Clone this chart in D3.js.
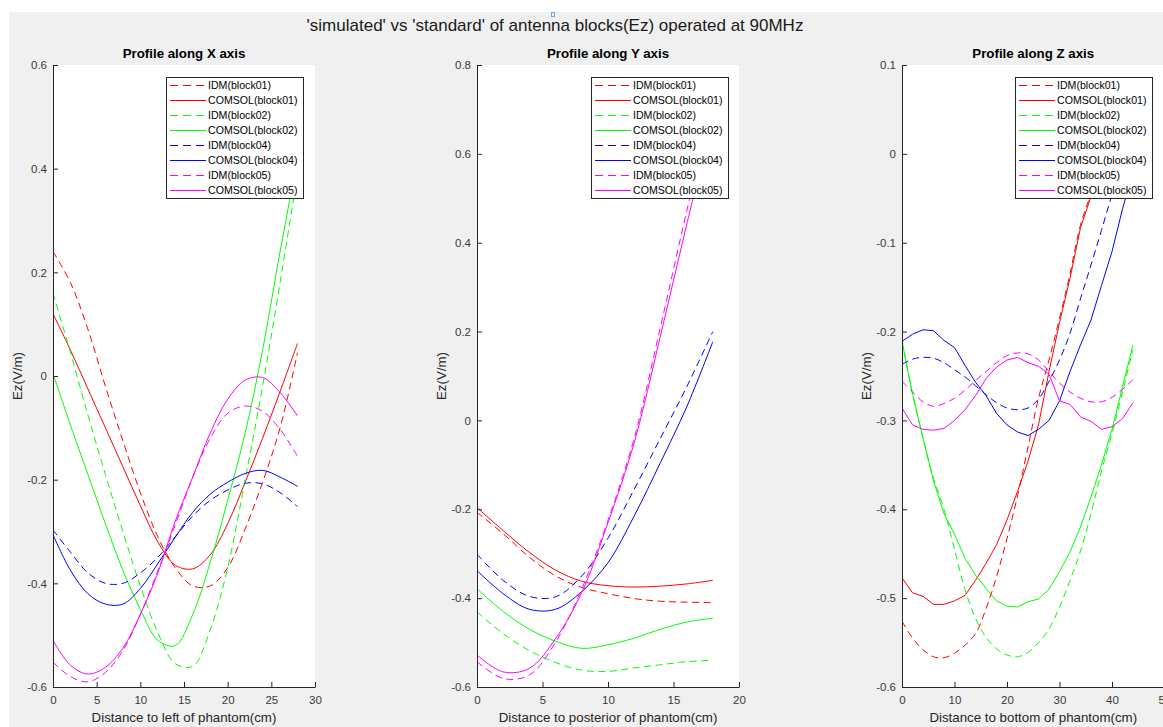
<!DOCTYPE html>
<html>
<head>
<meta charset="utf-8">
<script src="https://cdn.jsdelivr.net/npm/d3@7"></script>
<style>
body { margin: 0; background: #fff; }
text { font-family: "Liberation Sans", Arial, Helvetica, sans-serif; }
</style>
</head>
<body>
<div id="fig"></div>
<script>
// legend entries, same order in every subplot
var legendNames = ["IDM(block01)", "COMSOL(block01)", "IDM(block02)", "COMSOL(block02)",
                   "IDM(block04)", "COMSOL(block04)", "IDM(block05)", "COMSOL(block05)"];

// ---- profile along X (cm) ----
var posX = [0, 2, 4, 6, 8, 10, 12, 14, 16, 18, 20, 22, 24, 26, 28];
var x_idm01 = [0.24, 0.18, 0.09, -0.02, -0.125, -0.225, -0.31, -0.37, -0.405, -0.405, -0.37, -0.295, -0.205, -0.10, 0.045];
var x_com01 = [0.12, 0.05, -0.025, -0.10, -0.175, -0.25, -0.32, -0.365, -0.372, -0.345, -0.285, -0.205, -0.12, -0.03, 0.063];
var x_idm02 = [0.16, 0.045, -0.075, -0.19, -0.30, -0.405, -0.495, -0.555, -0.56, -0.49, -0.37, -0.20, -0.02, 0.18, 0.39];
var x_com02 = [0.005, -0.095, -0.19, -0.285, -0.375, -0.45, -0.51, -0.52, -0.46, -0.36, -0.24, -0.11, 0.05, 0.24, 0.42];
var x_idm04 = [-0.297, -0.34, -0.38, -0.40, -0.40, -0.38, -0.35, -0.31, -0.27, -0.24, -0.22, -0.207, -0.208, -0.225, -0.252];
var x_com04 = [-0.306, -0.375, -0.42, -0.44, -0.44, -0.41, -0.362, -0.311, -0.263, -0.228, -0.205, -0.188, -0.182, -0.195, -0.213];
var x_idm05 = [-0.552, -0.58, -0.59, -0.572, -0.53, -0.46, -0.376, -0.287, -0.196, -0.12, -0.072, -0.058, -0.068, -0.103, -0.155];
var x_com05 = [-0.51, -0.558, -0.575, -0.562, -0.525, -0.46, -0.38, -0.28, -0.195, -0.11, -0.045, -0.008, -0.003, -0.032, -0.077];

// ---- profile along Y (cm) ----
var posY = [0, 2, 4, 6, 8, 10, 12, 14, 16, 18];
var y_idm01 = [-0.207, -0.255, -0.308, -0.35, -0.376, -0.39, -0.401, -0.407, -0.409, -0.41];
var y_com01 = [-0.196, -0.248, -0.297, -0.337, -0.362, -0.372, -0.375, -0.373, -0.368, -0.36];
var y_idm02 = [-0.431, -0.48, -0.518, -0.545, -0.562, -0.565, -0.557, -0.55, -0.543, -0.54];
var y_com02 = [-0.379, -0.43, -0.47, -0.497, -0.513, -0.505, -0.49, -0.47, -0.454, -0.445];
var y_idm04 = [-0.301, -0.36, -0.396, -0.397, -0.35, -0.265, -0.155, -0.04, 0.075, 0.20];
var y_com04 = [-0.338, -0.39, -0.425, -0.425, -0.385, -0.32, -0.215, -0.095, 0.03, 0.177];
var y_idm05 = [-0.543, -0.581, -0.573, -0.499, -0.379, -0.225, -0.04, 0.21, 0.47, 0.72];
var y_com05 = [-0.528, -0.566, -0.558, -0.491, -0.387, -0.23, -0.05, 0.19, 0.44, 0.68];

// ---- profile along Z (cm) ----
var posZ = [0, 2, 4, 6, 8, 10, 12, 14, 16, 18, 20, 22, 24, 26, 28, 30, 32, 34, 36, 38, 40, 42, 44];
var z_idm01 = [-0.526, -0.545, -0.558, -0.566, -0.567, -0.562, -0.553, -0.54, -0.512, -0.476, -0.433, -0.385, -0.33, -0.275, -0.232, -0.185, -0.135, -0.08, -0.045, -0.01, 0.018, 0.04, 0.06];
var z_com01 = [-0.477, -0.494, -0.498, -0.507, -0.507, -0.503, -0.497, -0.48, -0.461, -0.44, -0.412, -0.38, -0.346, -0.305, -0.245, -0.19, -0.14, -0.083, -0.048, -0.015, 0.012, 0.035, 0.055];
var z_idm02 = [-0.211, -0.27, -0.32, -0.365, -0.40, -0.445, -0.49, -0.523, -0.544, -0.557, -0.564, -0.566, -0.561, -0.55, -0.535, -0.51, -0.48, -0.447, -0.405, -0.357, -0.315, -0.268, -0.22];
var z_com02 = [-0.211, -0.27, -0.32, -0.368, -0.405, -0.428, -0.455, -0.474, -0.489, -0.503, -0.509, -0.51, -0.504, -0.501, -0.49, -0.47, -0.448, -0.42, -0.386, -0.35, -0.31, -0.262, -0.215];
var z_idm04 = [-0.237, -0.231, -0.229, -0.23, -0.235, -0.243, -0.251, -0.261, -0.271, -0.28, -0.286, -0.288, -0.286, -0.276, -0.256, -0.232, -0.202, -0.163, -0.125, -0.086, -0.046, -0.01, 0.02];
var z_com04 = [-0.211, -0.203, -0.198, -0.199, -0.21, -0.218, -0.238, -0.257, -0.272, -0.292, -0.305, -0.313, -0.317, -0.31, -0.30, -0.278, -0.245, -0.215, -0.187, -0.148, -0.11, -0.062, -0.02];
var z_idm05 = [-0.256, -0.268, -0.279, -0.284, -0.281, -0.275, -0.266, -0.255, -0.245, -0.235, -0.227, -0.224, -0.225, -0.232, -0.245, -0.258, -0.268, -0.275, -0.279, -0.279, -0.274, -0.265, -0.254];
var z_com05 = [-0.286, -0.305, -0.31, -0.311, -0.309, -0.30, -0.288, -0.272, -0.253, -0.24, -0.232, -0.229, -0.235, -0.239, -0.248, -0.278, -0.282, -0.296, -0.301, -0.31, -0.307, -0.298, -0.28];

// tick labels
var xTicksX = [0, 5, 10, 15, 20, 25, 30];
var xTicksY = [0, 5, 10, 15, 20];
var xTicksZ = [0, 10, 20, 30, 40, 50];
var yTicksX = [-0.6, -0.4, -0.2, 0, 0.2, 0.4, 0.6];
var yTicksY = [-0.6, -0.4, -0.2, 0, 0.2, 0.4, 0.6, 0.8];
var yTicksZ = [-0.6, -0.5, -0.4, -0.3, -0.2, -0.1, 0, 0.1];

var W = 1163, H = 727;
var axTop = 65, axBottom = 687;
var colors = ["#ff0000", "#00ff00", "#0000ff", "#ff00ff"];
var ink = "#262626";

var panels = [
  {left: 53, right: 315, xd: [0, 30], xt: xTicksX, yd: [-0.6, 0.6], yt: yTicksX, pos: posX,
   data: [x_idm01, x_com01, x_idm02, x_com02, x_idm04, x_com04, x_idm05, x_com05],
   title: "Profile along X axis", xlabel: "Distance to left of phantom(cm)", legX: 166, smooth: true},
  {left: 477, right: 739, xd: [0, 20], xt: xTicksY, yd: [-0.6, 0.8], yt: yTicksY, pos: posY,
   data: [y_idm01, y_com01, y_idm02, y_com02, y_idm04, y_com04, y_idm05, y_com05],
   title: "Profile along Y axis", xlabel: "Distance to posterior of phantom(cm)", legX: 591, smooth: true},
  {left: 902, right: 1164.5, xd: [0, 50], xt: xTicksZ, yd: [-0.6, 0.1], yt: yTicksZ, pos: posZ,
   data: [z_idm01, z_com01, z_idm02, z_com02, z_idm04, z_com04, z_idm05, z_com05],
   title: "Profile along Z axis", xlabel: "Distance to bottom of phantom(cm)", legX: 1015, smooth: false}
];

var svg = d3.select("#fig").append("svg").attr("width", W).attr("height", H);
svg.append("rect").attr("width", W).attr("height", H).attr("fill", "#fff");
svg.append("rect").attr("x", 9).attr("y", 12).attr("width", W - 9).attr("height", H - 12).attr("fill", "#f0f0f0");

// figure title
svg.append("text").attr("x", 555).attr("y", 31).attr("text-anchor", "middle")
  .attr("font-size", "17px").attr("fill", "#1a1a1a")
  .text("'simulated' vs 'standard' of antenna blocks(Ez) operated at 90MHz");
svg.append("rect").attr("x", 551.5).attr("y", 12.5).attr("width", 3).attr("height", 4)
  .attr("fill", "none").attr("stroke", "#7aa7dd").attr("stroke-width", 1);

var fmtY = function(d) { return Math.abs(d) < 1e-9 ? "0" : d.toFixed(1); };

panels.forEach(function(p, i) {
  var g = svg.append("g");
  var xs = d3.scaleLinear().domain(p.xd).range([p.left, p.right]);
  var ys = d3.scaleLinear().domain(p.yd).range([axBottom, axTop]);

  g.append("rect").attr("x", p.left).attr("y", axTop)
    .attr("width", p.right - p.left).attr("height", axBottom - axTop).attr("fill", "#fff");

  svg.append("clipPath").attr("id", "clip" + i).append("rect")
    .attr("x", p.left).attr("y", axTop).attr("width", p.right - p.left).attr("height", axBottom - axTop);

  var lines = g.append("g").attr("clip-path", "url(#clip" + i + ")");
  p.data.forEach(function(vals, j) {
    var dashed = j % 2 === 0;
    var curve = (p.smooth || dashed) ? d3.curveCatmullRom.alpha(0.5) : d3.curveLinear;
    var line = d3.line()
      .x(function(d, k) { return xs(p.pos[k]); })
      .y(function(d) { return ys(d); })
      .curve(curve);
    lines.append("path").datum(vals)
      .attr("d", line)
      .attr("fill", "none")
      .attr("stroke", colors[j >> 1])
      .attr("stroke-width", 1)
      .attr("stroke-dasharray", dashed ? "7,4.5" : null);
  });

  // axes, ticks pointing inward like matlab
  var xa = g.append("g").attr("transform", "translate(0," + axBottom + ")")
    .call(d3.axisBottom(xs).tickValues(p.xt).tickSizeInner(-5).tickSizeOuter(0).tickPadding(9)
      .tickFormat(d3.format("d")));
  var ya = g.append("g").attr("transform", "translate(" + p.left + ",0)")
    .call(d3.axisLeft(ys).tickValues(p.yt).tickSizeInner(-5).tickSizeOuter(0).tickPadding(6)
      .tickFormat(fmtY));
  [xa, ya].forEach(function(a) {
    a.attr("font-family", null).attr("font-size", "11.5px");
    a.select(".domain").attr("stroke", ink).attr("stroke-width", 1);
    a.selectAll(".tick line").attr("stroke", ink);
    a.selectAll(".tick text").attr("fill", "#3a3a3a");
  });

  // labels
  g.append("text").attr("x", (p.left + p.right) / 2).attr("y", 58).attr("text-anchor", "middle")
    .attr("font-size", "13.3px").attr("font-weight", "bold").attr("fill", "#000").text(p.title);
  g.append("text").attr("x", (p.left + p.right) / 2).attr("y", 722).attr("text-anchor", "middle")
    .attr("font-size", "13.3px").attr("fill", ink).text(p.xlabel);
  g.append("text").attr("transform", "translate(" + (p.left - 31) + "," + ((axTop + axBottom) / 2) + ") rotate(-90)")
    .attr("text-anchor", "middle").attr("font-size", "13.3px").attr("fill", ink).text("Ez(V/m)");

  // legend
  var lg = g.append("g");
  lg.append("rect").attr("x", p.legX + 0.5).attr("y", 77.5).attr("width", 137).attr("height", 121)
    .attr("fill", "#fff").attr("stroke", ink).attr("stroke-width", 1);
  legendNames.forEach(function(name, j) {
    var yy = 85.5 + 15 * j;
    lg.append("line").attr("x1", p.legX + 4).attr("x2", p.legX + 40).attr("y1", yy).attr("y2", yy)
      .attr("stroke", colors[j >> 1]).attr("stroke-width", 1)
      .attr("stroke-dasharray", j % 2 === 0 ? "8,5" : null);
    lg.append("text").attr("x", p.legX + 42).attr("y", yy).attr("dy", "0.35em")
      .attr("font-size", "10.6px").attr("fill", "#000").text(name);
  });
});
</script>
</body>
</html>
